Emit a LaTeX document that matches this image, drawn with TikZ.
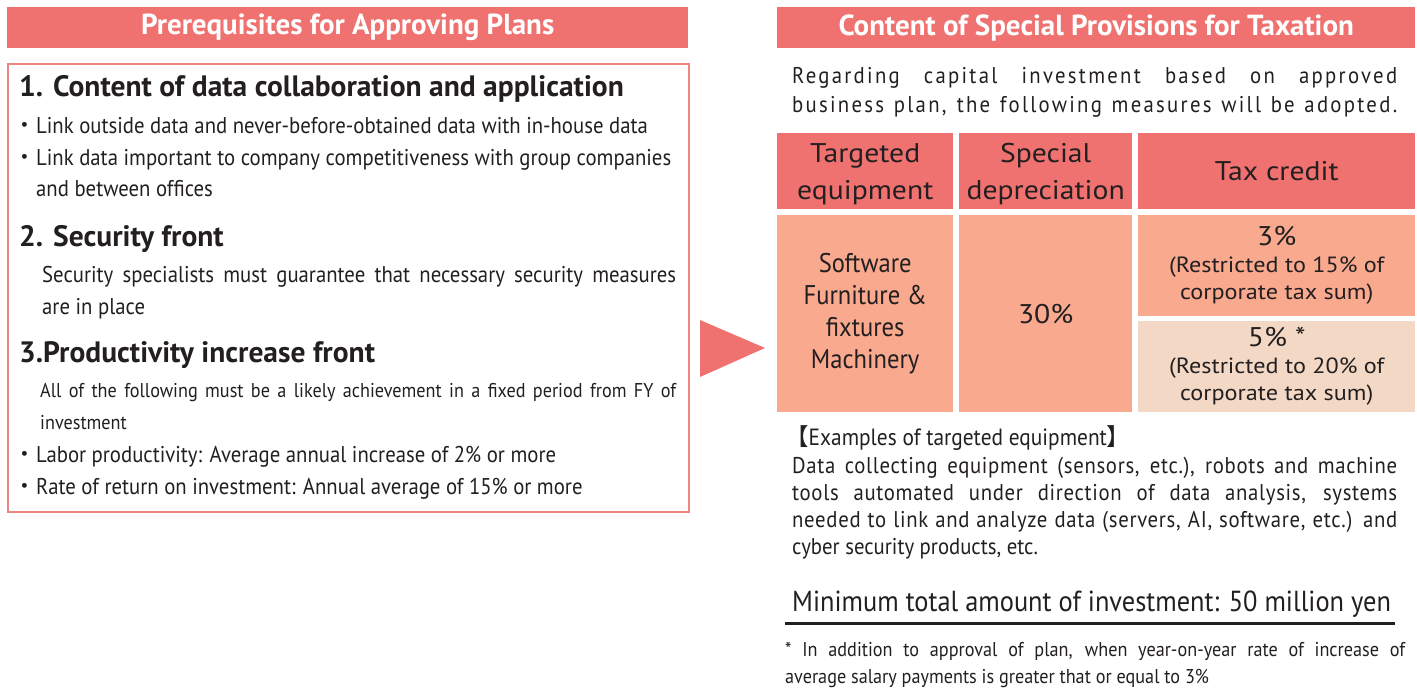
\documentclass[tikz,border=0pt]{standalone}
\usepackage{fontspec}
\setmainfont{PT Sans}[FakeStretch=0.91]
\newfontfamily\plainfont{PT Sans}
\newfontfamily\widefont{PT Sans}[FakeStretch=1.1]
\newfontfamily\spacedfont{PT Sans}[FakeStretch=0.91,LetterSpace=10]
\newfontfamily\looserfont{PT Sans}[FakeStretch=0.91,LetterSpace=3]
\newfontfamily\cjkfont{Noto Sans CJK JP}
\usetikzlibrary{positioning}
\definecolor{hdrred}{HTML}{F07270}
\definecolor{cellsalmon}{HTML}{F8A98E}
\definecolor{cellpeach}{HTML}{F3D9C5}
\definecolor{boxred}{HTML}{F08480}
\definecolor{ink}{HTML}{231F20}
\newcommand{\dotb}{\llap{\cjkfont ・}}

\begin{document}
\begin{tikzpicture}[x=1pt,y=-1pt,text=ink,
                hdrbar/.style={fill=hdrred,text=white,font=\plainfont\fontsize{29}{32}\selectfont\bfseries,
                  minimum height=41,inner sep=0,anchor=north west},
                cell/.style={inner sep=0,anchor=north west,align=center,
                  font=\widefont\fontsize{27}{32}\selectfont},
                subcell/.style={cell,font=\widefont\fontsize{22}{27}\selectfont},
                heading/.style={anchor=base west,inner sep=0,font=\plainfont\fontsize{29.5}{32}\selectfont\bfseries},
                body/.style={anchor=base west,inner sep=0,font=\fontsize{22.8}{26}\selectfont},
                exline/.style={body,font=\looserfont\fontsize{22.8}{26}\selectfont},
                small/.style={anchor=base west,inner sep=0,font=\fontsize{20}{24}\selectfont}]

  \useasboundingbox (0,0) rectangle (1417,688);

  % left side
  \node[hdrbar,minimum width=681] (lhead) at (7,7) {Prerequisites for Approving Plans};
  \node[draw=boxred,line width=2,minimum width=681,minimum height=448,anchor=north west] (lbox) at (7,63) {};

  \node[heading] (h1) at (19,96) {1. Content of data collaboration and application};
  \node[body] (b1) at (36,133) {\dotb Link outside data and never-before-obtained data with in-house data};
  \node[body] (b2) at (36,165) {\dotb Link data important to company competitiveness with group companies};
  \node[body] (b2b) at (36,196) {and between offices};

  \node[heading] (h2) at (19,246) {2. Security front};
  \node[body] (s1) at (42,282) {\makebox[634pt][s]{Security specialists must guarantee that necessary security measures}};
  \node[body] (s2) at (42,314) {are in place};

  \node[heading] (h3) at (19,362) {3.Productivity increase front};
  \node[small] (p1) at (40,397) {\makebox[636pt][s]{All of the following must be a likely achievement in a fixed period from FY of}};
  \node[small] (p2) at (40,429) {investment};
  \node[body] (p3) at (36,462) {\dotb Labor productivity: Average annual increase of 2\% or more};
  \node[body] (p4) at (36,494) {\dotb Rate of return on investment: Annual average of 15\% or more};

  % arrow
  \fill[hdrred] (700,320) -- (765,348) -- (700,377) -- cycle;

  % right side
  \node[hdrbar,minimum width=638] (rhead) at (777,7) {Content of Special Provisions for Taxation};
  \node[body,font=\spacedfont\fontsize{22.8}{26}\selectfont] (r1) at (792,83) {\makebox[605pt][s]{Regarding capital investment based on approved}};
  \node[body,font=\spacedfont\fontsize{22.8}{26}\selectfont] (r2) at (792,112) {\makebox[605pt][s]{business plan, the following measures will be adopted.}};

  \node[cell,fill=hdrred,minimum width=176,minimum height=76] (th1) at (777,133) {};
  \node[cell,fill=hdrred,minimum width=173,minimum height=76] (th2) at (959,133) {};
  \node[cell,fill=hdrred,minimum width=277,minimum height=76] (th3) at (1138,133) {};
  \node[cell,anchor=center,font=\widefont\fontsize{27}{37}\selectfont] at ([yshift=-3]th1.center) {Targeted\\equipment};
  \node[cell,anchor=center,font=\widefont\fontsize{27}{37}\selectfont] at ([yshift=-3]th2.center) {Special\\depreciation};
  \node[cell,anchor=center] at (th3.center) {Tax credit};

  \node[cell,fill=cellsalmon,minimum width=176,minimum height=197] (td1) at (777,215) {};
  \node[cell,fill=cellsalmon,minimum width=173,minimum height=197] (td2) at (959,215) {};
  \node[cell,fill=cellsalmon,minimum width=277,minimum height=101] (td3) at (1138,215) {};
  \node[cell,fill=cellpeach,minimum width=277,minimum height=91] (td4) at (1138,321) {};
  \node[cell,anchor=center,font=\fontsize{27}{32}\selectfont] at (td1.center) {Software\\Furniture \&\\fixtures\\Machinery};
  \node[cell,anchor=center] at (td2.center) {30\%};
  \node[subcell,anchor=center] at (td3.center) {{\fontsize{27}{27}\selectfont 3\%}\\(Restricted to 15\% of\\corporate tax sum)};
  \node[subcell,anchor=center] at (td4.center) {{\fontsize{27}{27}\selectfont 5\% *}\\(Restricted to 20\% of\\corporate tax sum)};

  \node[body,font=\fontsize{23.5}{26}\selectfont] (ex0) at (785,445) {{\cjkfont 【}Examples of targeted equipment{\cjkfont 】}};
  \node[exline] (ex1) at (792,473) {\makebox[605pt][s]{Data collecting equipment (sensors, etc.), robots and machine}};
  \node[exline] (ex2) at (792,500) {\makebox[605pt][s]{tools automated under direction of data analysis, systems}};
  \node[exline] (ex3) at (792,527) {\makebox[605pt][s]{needed to link and analyze data (servers, AI, software, etc.) and}};
  \node[body] (ex4) at (792,554) {cyber security products, etc.};

  \node[body,font=\fontsize{29}{32}\selectfont] (mn) at (792,611) {Minimum total amount of investment: 50 million yen};
  \draw[ink,line width=3] (785,623) -- (1395,623);

  \node[small] (fn1) at (785,656) {\makebox[620pt][s]{* In addition to approval of plan, when year-on-year rate of increase of}};
  \node[small] (fn2) at (785,683) {average salary payments is greater that or equal to 3\%};

\end{tikzpicture}
\end{document}
